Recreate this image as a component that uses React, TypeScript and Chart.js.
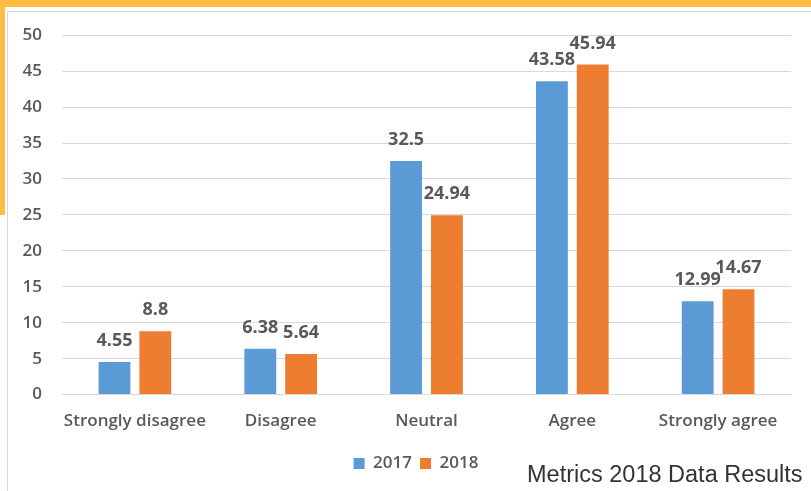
import React, { useEffect, useRef } from "react";
import { Chart, registerables } from "chart.js";

Chart.register(...registerables);

const categories = ["Strongly disagree", "Disagree", "Neutral", "Agree", "Strongly agree"];
const series2017 = [4.55, 6.38, 32.5, 43.58, 12.99];
const series2018 = [8.8, 5.64, 24.94, 45.94, 14.67];
const yTicks = [0, 5, 10, 15, 20, 25, 30, 35, 40, 45, 50];

const FONT = "'Open Sans', 'Noto Sans', sans-serif";

const valueLabels = {
  id: "valueLabels",
  afterDatasetsDraw(chart: any) {
    const ctx = chart.ctx;
    ctx.save();
    ctx.font = `bold 18px ${FONT}`;
    ctx.fillStyle = "#595959";
    ctx.textAlign = "center";
    ctx.textBaseline = "bottom";
    chart.data.datasets.forEach((ds: any, di: number) => {
      const meta = chart.getDatasetMeta(di);
      meta.data.forEach((bar: any, i: number) => {
        ctx.fillText(String(ds.data[i]), bar.x, bar.y - 12);
      });
    });
    ctx.restore();
  },
};

// centre the legend slightly left of the plot centre, as in the original
const legendShift = {
  id: "legendShift",
  afterLayout(chart: any) {
    const lg = chart.legend;
    if (!lg) return;
    lg.left = chart.chartArea.left - 21;
    lg.right = chart.chartArea.right;
    lg.width = lg.right - lg.left;
  },
};

export default function App() {
  const ref = useRef<HTMLCanvasElement>(null);
  useEffect(() => {
    if (!ref.current) return;
    const chart = new Chart(ref.current, {
      type: "bar",
      data: {
        labels: categories,
        datasets: [
          { label: "2017", data: series2017, backgroundColor: "#5B9BD5" },
          { label: "2018", data: series2018, backgroundColor: "#ED7D31" },
        ],
      },
      plugins: [valueLabels, legendShift],
      options: {
        animation: false,
        responsive: false,
        maintainAspectRatio: false,
        layout: { padding: { left: 0, right: 20, top: 0, bottom: 9 } },
        datasets: { bar: { categoryPercentage: 0.56, barPercentage: 0.78 } },
        plugins: {
          legend: {
            position: "bottom",
            labels: {
              boxWidth: 11,
              boxHeight: 11,
              padding: 8,
              color: "#595959",
              font: { family: FONT, size: 17, weight: 600 },
            },
          },
          tooltip: { enabled: false },
        },
        scales: {
          x: {
            grid: { display: false, drawTicks: false },
            border: { color: "#D9D9D9" },
            ticks: { color: "#595959", font: { family: FONT, size: 17, weight: 600 }, padding: 16, maxRotation: 0 },
          },
          y: {
            min: 0,
            max: 50,
            afterBuildTicks: (scale: any) => {
              scale.ticks = yTicks.map((v) => ({ value: v }));
            },
            afterFit: (scale: any) => {
              scale.width = 54;
            },
            grid: { color: "#D9D9D9", drawTicks: false },
            border: { display: false },
            ticks: { color: "#595959", font: { family: FONT, size: 17, weight: 600 }, padding: 20 },
          },
        },
      },
    });
    return () => chart.destroy();
  }, []);

  return (
    <div style={{ position: "absolute", left: 0, top: 0, width: 811, height: 491, overflow: "hidden", background: "#fff" }}>
      <div style={{ position: "absolute", left: 0, top: 0, width: 811, height: 7, background: "#FFBD45" }} />
      <div style={{ position: "absolute", left: 0, top: 0, width: 5, height: 215, background: "#FFBD45" }} />
      <div style={{ position: "absolute", left: 7, top: 11, width: 900, height: 600, border: "1px solid #D9D9D9", boxSizing: "border-box" }} />
      <canvas ref={ref} width={803} height={486} style={{ position: "absolute", left: 8, top: 5 }} />
      <div style={{ position: "absolute", left: 527, top: 461, fontFamily: "'Liberation Sans', Arial, sans-serif", fontSize: 23.5, lineHeight: "27px", color: "#333", whiteSpace: "nowrap" }}>
        Metrics 2018 Data Results
      </div>
    </div>
  );
}
